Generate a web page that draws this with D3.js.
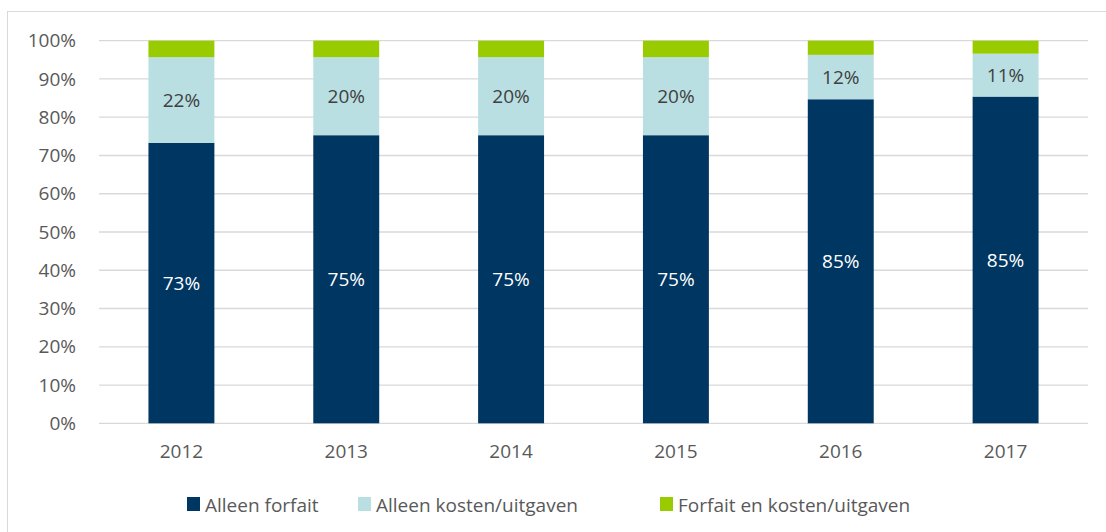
<!DOCTYPE html>
<html>
<head>
<meta charset="utf-8">
<script src="https://cdn.jsdelivr.net/npm/d3@7"></script>
<style>
  body { margin: 0; background: #fff; }
  #chart { width: 1106px; height: 532px; }
  text { font-family: "Open Sans", "Liberation Sans", sans-serif; }
</style>
</head>
<body>
<div id="chart"></div>
<script>
// data
const years = ["2012", "2013", "2014", "2015", "2016", "2017"];
const series = ["Alleen forfait", "Alleen kosten/uitgaven", "Forfait en kosten/uitgaven"];
const alleenForfait = [73.3, 75.3, 75.3, 75.3, 84.7, 85.4];
const alleenKosten = [22.4, 20.4, 20.4, 20.4, 11.6, 11.2];
const forfaitEnKosten = [4.3, 4.3, 4.3, 4.3, 3.7, 3.4];
const yTicks = [0, 10, 20, 30, 40, 50, 60, 70, 80, 90, 100];

const colors = ["#003662", "#B9DFE3", "#99CC00"];
const labelColors = ["#FFFFFF", "#404040", null];

const width = 1106, height = 532;
const margin = {top: 40.7, left: 99, right: 18, bottom: 108.7};
const fontSize = "19px";

const svg = d3.select("#chart")
    .append("svg")
    .attr("width", width)
    .attr("height", height);

// chart frame
svg.append("rect")
    .attr("x", 7.5).attr("y", 11.5)
    .attr("width", width + 10).attr("height", height + 10)
    .attr("fill", "none")
    .attr("stroke", "#D9D9D9");

const table = years.map((y, i) => ({
    year: y,
    "Alleen forfait": alleenForfait[i],
    "Alleen kosten/uitgaven": alleenKosten[i],
    "Forfait en kosten/uitgaven": forfaitEnKosten[i]
}));
const stacked = d3.stack().keys(series)(table);

const xScale = d3.scaleBand()
    .domain(years)
    .range([margin.left, width - margin.right])
    .paddingInner(0.6)
    .paddingOuter(0.3);

const yScale = d3.scaleLinear()
    .domain([0, 100])
    .range([height - margin.bottom, margin.top]);

// gridlines
svg.append("g")
    .selectAll("line")
    .data(yTicks)
    .join("line")
    .attr("x1", margin.left)
    .attr("x2", width - margin.right)
    .attr("y1", d => yScale(d))
    .attr("y2", d => yScale(d))
    .attr("stroke", "#D9D9D9")
    .attr("stroke-width", 1.3);

// y axis
const yAxis = svg.append("g")
    .attr("transform", `translate(${margin.left},0)`)
    .call(d3.axisLeft(yScale).tickValues(yTicks).tickFormat(d => d + "%").tickSize(0).tickPadding(23));
yAxis.select(".domain").remove();
yAxis.selectAll("text")
    .attr("fill", "#595959")
    .style("font-size", fontSize);

// x axis
const xAxis = svg.append("g")
    .attr("transform", `translate(0,${height - margin.bottom})`)
    .call(d3.axisBottom(xScale).tickSize(0).tickPadding(21));
xAxis.select(".domain").remove();
xAxis.selectAll("text")
    .attr("fill", "#595959")
    .style("font-size", fontSize);

// bars
const layers = svg.append("g")
    .selectAll("g")
    .data(stacked)
    .join("g")
    .attr("fill", (d, i) => colors[i]);

layers.selectAll("rect")
    .data(d => d)
    .join("rect")
    .attr("x", d => xScale(d.data.year))
    .attr("width", xScale.bandwidth())
    .attr("y", d => yScale(d[1]))
    .attr("height", d => yScale(d[0]) - yScale(d[1]));

// data labels (first two series)
stacked.forEach((layer, i) => {
    if (!labelColors[i]) return;
    svg.append("g")
        .selectAll("text")
        .data(layer)
        .join("text")
        .attr("x", d => xScale(d.data.year) + xScale.bandwidth() / 2)
        .attr("y", d => (yScale(d[0]) + yScale(d[1])) / 2)
        .attr("dy", "0.35em")
        .attr("text-anchor", "middle")
        .attr("fill", labelColors[i])
        .style("font-size", fontSize)
        .text(d => Math.round(d[1] - d[0]) + "%");
});

// legend
const legendX = [187, 358, 660];
const legend = svg.append("g")
    .selectAll("g")
    .data(series)
    .join("g")
    .attr("transform", (d, i) => `translate(${legendX[i]},497)`);

legend.append("rect")
    .attr("width", 13)
    .attr("height", 14)
    .attr("fill", (d, i) => colors[i]);

legend.append("text")
    .attr("x", 18)
    .attr("y", 8)
    .attr("dy", "0.35em")
    .attr("fill", "#595959")
    .style("font-size", fontSize)
    .text(d => d);
</script>
</body>
</html>
